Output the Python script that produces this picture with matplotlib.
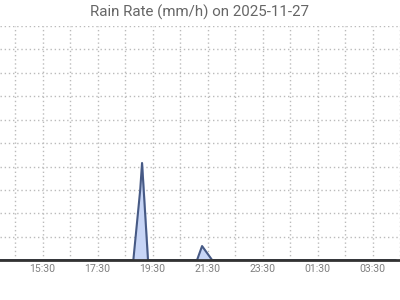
import matplotlib
matplotlib.use('Agg')
import matplotlib.pyplot as plt
import matplotlib.dates as mdates
import pandas as pd

# Rain rate samples (mm/h), zero everywhere else
rainZeiten = ['2025-11-27 13:55', '2025-11-27 18:48', '2025-11-27 19:03',
              '2025-11-27 19:07', '2025-11-27 19:20', '2025-11-27 21:07',
              '2025-11-27 21:18', '2025-11-27 21:40', '2025-11-28 04:20']
rainRate = [0, 0, 3.0, 4.15, 0, 0, 0.6, 0, 0]

titel = 'Rain Rate (mm/h) on 2025-11-27'
xStart = '2025-11-27 13:57'
xEnde = '2025-11-28 04:17'

plt.rcParams['font.family'] = ['Roboto', 'DejaVu Sans']

zeiten = pd.to_datetime(rainZeiten)

fig = plt.figure(figsize=(4, 3), dpi=100)
ax = fig.add_axes([0, 0.133, 1, 0.78])

ax.fill_between(zeiten, rainRate, 0, color='#c7d5f6', zorder=2)
ax.plot(zeiten, rainRate, color='#475a85', linewidth=1.5, zorder=3)

ax.set_xlim(pd.Timestamp(xStart), pd.Timestamp(xEnde))
ax.set_ylim(0, 10)
ax.set_yticks(range(0, 11))
ax.set_yticklabels([])

stunden = pd.date_range('2025-11-27 14:30', '2025-11-28 04:30', freq='1h')
ax.set_xticks(stunden[1::2])
ax.set_xticks(stunden, minor=True)
ax.xaxis.set_major_formatter(mdates.DateFormatter('%H:%M'))

ax.grid(True, which='both', color='#bbbbbb', linestyle=(0, (1, 2)), linewidth=1)
ax.tick_params(axis='both', which='both', length=0)
ax.tick_params(axis='x', labelsize=7.6, labelcolor='#808080', pad=3)

for s in ['top', 'left', 'right']:
    ax.spines[s].set_visible(False)
ax.spines['bottom'].set_color('#333333')
ax.spines['bottom'].set_linewidth(2)
ax.spines['bottom'].set_zorder(4)

ax.set_title(titel, fontsize=10.9, color='#666666', pad=7)

fig.savefig('out.png', dpi=100)
